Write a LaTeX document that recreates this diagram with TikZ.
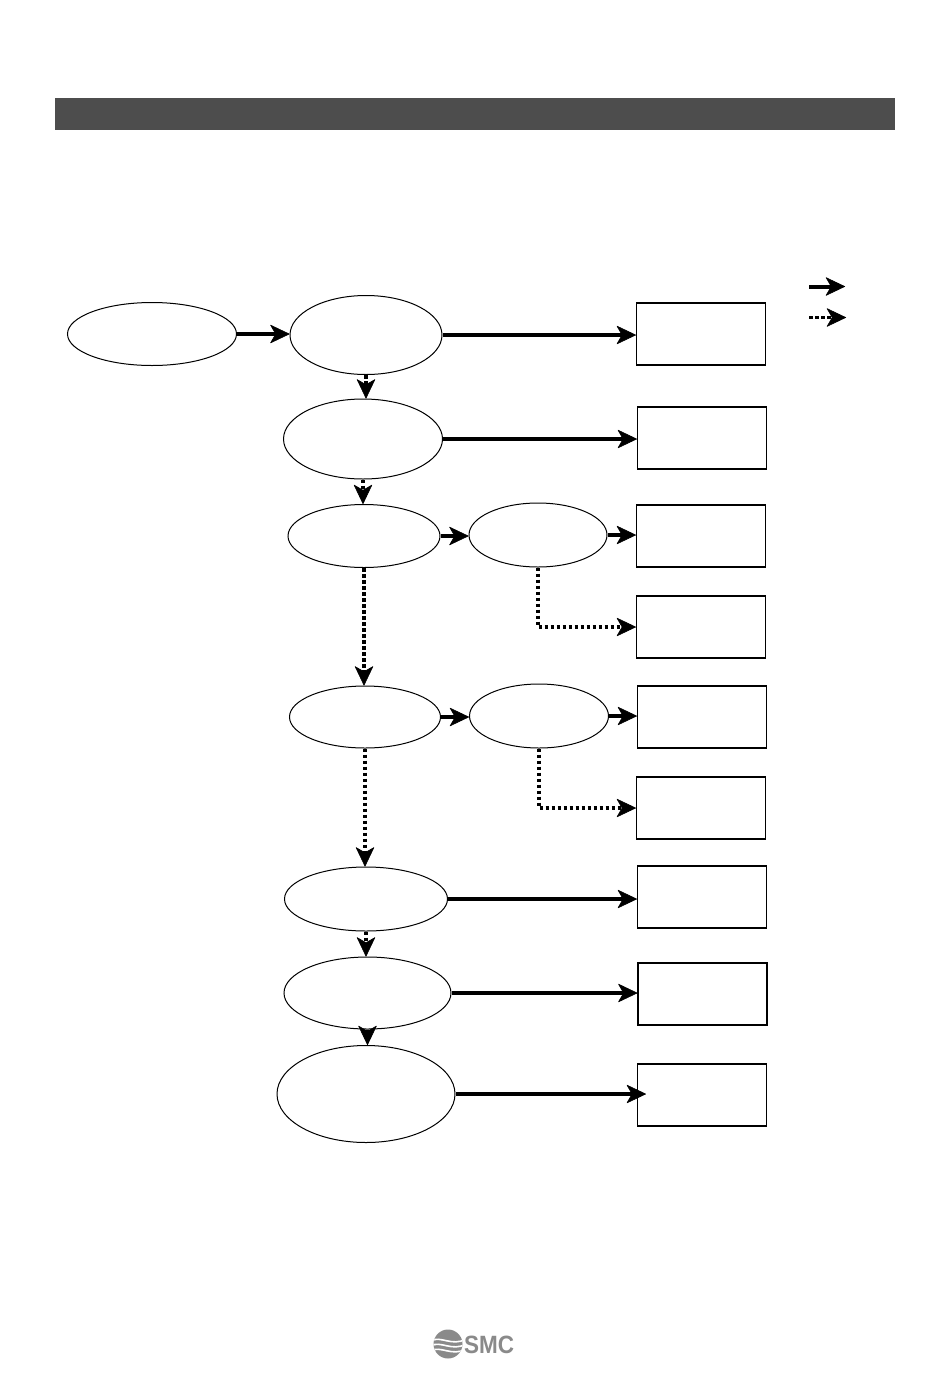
\documentclass[tikz,border=0pt]{standalone}
\usepackage{fontspec}
\newfontfamily\logofont{Liberation Sans}
\usetikzlibrary{arrows.meta,shapes.geometric}
\definecolor{headgray}{HTML}{4D4D4D}
\definecolor{logogray}{HTML}{8A8A8A}
\tikzset{
  oval/.style={draw,ellipse,line width=1pt,inner sep=0pt},
  resbox/.style={draw,rectangle,line width=1.2pt,minimum width=129pt,minimum height=62pt,inner sep=0pt},
  yesarrow/.style={line width=4pt,-{Stealth[length=20pt,width=19pt,inset=5.5pt,line width=0.6pt,round]}},
  noarrow/.style={line width=3.5pt,dash pattern=on 3.5pt off 2.5pt,-{Stealth[length=20pt,width=19pt,inset=5.5pt,line width=0.6pt,round]}},
}
\begin{document}
\begin{tikzpicture}[x=1pt,y=-1pt]
\useasboundingbox (0,0) rectangle (950,1379);
\fill[headgray] (55,98) rectangle (895,130);

% ellipses
\node[oval,minimum width=169pt,minimum height=63pt] (e0) at (152,334) {};
\node[oval,minimum width=152pt,minimum height=79pt] (e1) at (366,335) {};
\node[oval,minimum width=159pt,minimum height=80pt] (e2) at (363,439) {};
\node[oval,minimum width=152pt,minimum height=63pt] (e3) at (364,536) {};
\node[oval,minimum width=138pt,minimum height=64pt] (e3b) at (538,535) {};
\node[oval,minimum width=151pt,minimum height=62pt] (e4) at (365,717) {};
\node[oval,minimum width=139pt,minimum height=64pt] (e4b) at (539,716) {};
\node[oval,minimum width=163pt,minimum height=64pt] (e5) at (366,899) {};
\node[oval,minimum width=167pt,minimum height=72pt] (e6) at (367.5,993) {};
\node[oval,minimum width=178pt,minimum height=97pt] (e7) at (366,1094) {};

% boxes
\node[resbox] (b1) at (701,334) {};
\node[resbox] (b2) at (702,438) {};
\node[resbox] (b3) at (701,536) {};
\node[resbox] (b4) at (701,627) {};
\node[resbox] (b5) at (702,717) {};
\node[resbox] (b6) at (701,808) {};
\node[resbox] (b7) at (702,897) {};
\node[resbox] (b8) at (702.5,994) {};
\node[resbox] (b9) at (702,1095) {};

% solid arrows
\draw[yesarrow] (e0.east) -- (e0.east -| e1.west);
\draw[yesarrow] (e1.east) -- (e1.east -| b1.west);
\draw[yesarrow] (e2.east) -- (e2.east -| b2.west);
\draw[yesarrow] (e3.east) -- (e3.east -| e3b.west);
\draw[yesarrow] (e3b.east) -- (e3b.east -| b3.west);
\draw[yesarrow] (e4.east) -- (e4.east -| e4b.west);
\draw[yesarrow] (e4b.east) -- (e4b.east -| b5.west);
\draw[yesarrow] (e5.east) -- (e5.east -| b7.west);
\draw[yesarrow] (e6.east) -- (e6.east -| b8.west);
\draw[yesarrow] (e7.east) -- ([xshift=9pt]e7.east -| b9.west);

% dashed arrows
\draw[noarrow] (e1.south) -- (e2.north -| e1.south);
\draw[noarrow] (e2.south) -- (e3.north -| e2.south);
\draw[noarrow] (e3.south) -- (e4.north -| e3.south);
\draw[noarrow] (e4.south) -- (e5.north -| e4.south);
\draw[noarrow] (e5.south) -- (e6.north -| e5.south);
\draw[noarrow] (e6.south) -- (e7.north -| e6.south);
\draw[noarrow] (e3b.south) |- (b4.west);
\draw[noarrow] (e4b.south) |- (b6.west);

% legend
\coordinate (l1a) at (809,286.5);
\coordinate (l1b) at (845,286.5);
\coordinate (l2a) at (809,317.5);
\coordinate (l2b) at (846,317.5);
\draw[yesarrow] (l1a) -- (l1b);
\draw[noarrow] (l2a) -- (l2b);

% logo
\fill[logogray] (448,1344) circle (14.5pt);
\begin{scope}
\clip (448,1344) circle (14.5pt);
\draw[white,line width=1.6pt] (431,1341) .. controls (440,1335) and (452,1347) .. (466,1339);
\draw[white,line width=1.6pt] (431,1346) .. controls (440,1340) and (452,1352) .. (466,1344);
\draw[white,line width=1.6pt] (431,1351) .. controls (440,1345) and (452,1357) .. (466,1349);
\end{scope}
\node[text=logogray,inner sep=0pt,anchor=west,xscale=0.9,font=\logofont\bfseries\fontsize{25}{25}\selectfont] (smc) at (464,1344.5) {SMC};
\end{tikzpicture}
\end{document}
